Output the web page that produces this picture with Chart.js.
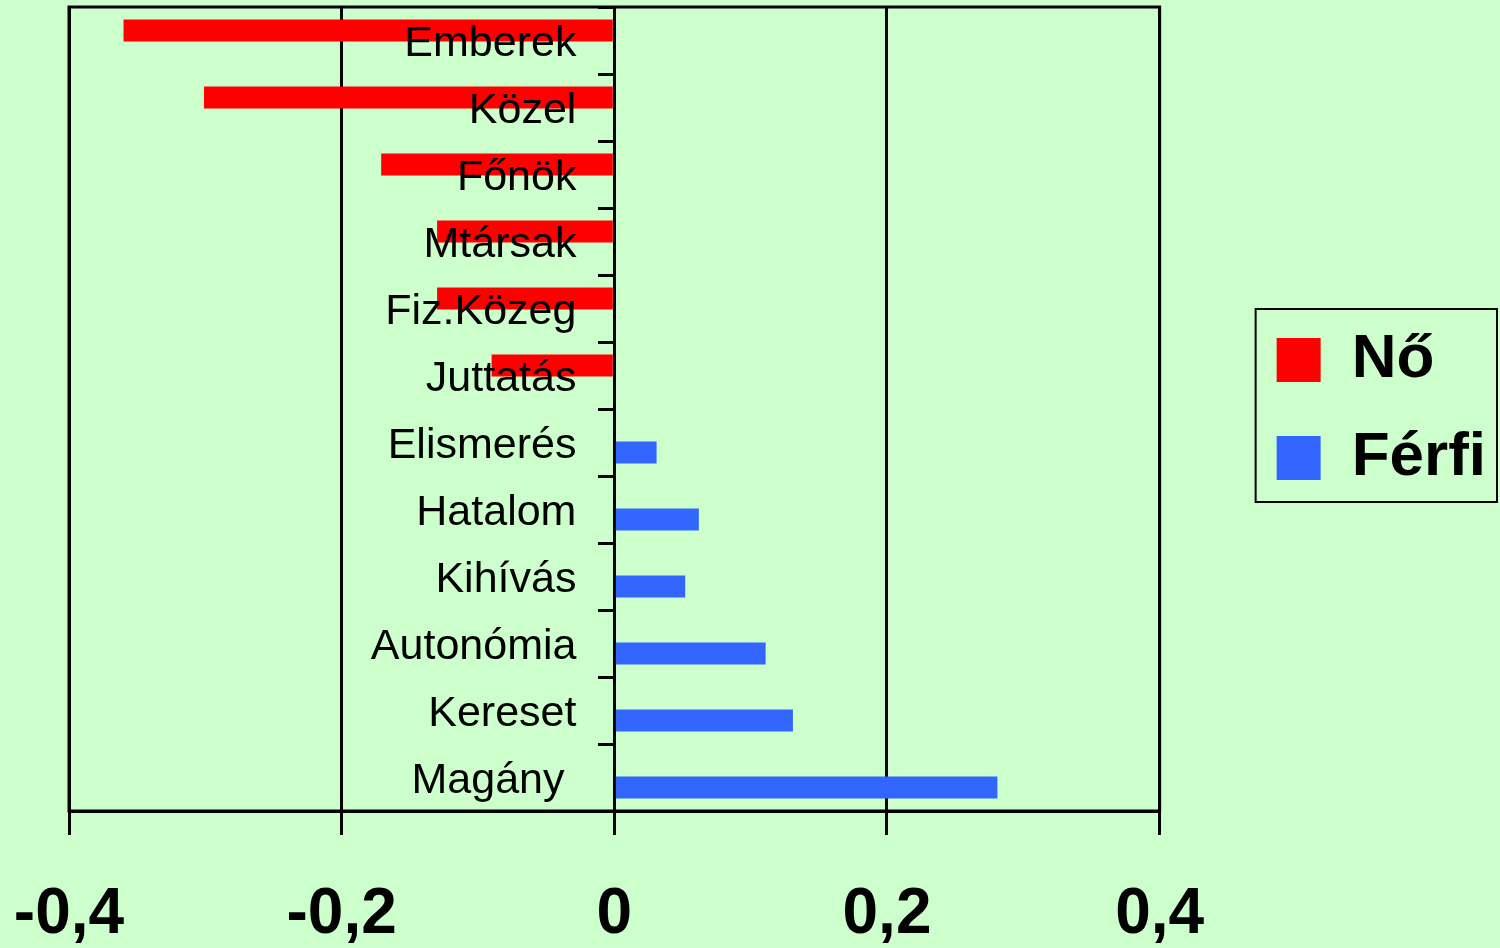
<!DOCTYPE html>
<html lang="hu">
<head>
  <meta charset="UTF-8">
  <title>Nő / Férfi</title>
  <style>
    html, body { margin: 0; padding: 0; background: #ccffcc; }
    .canvas_box { width: 1500px; height: 948px; }
  </style>
  <script src="https://cdn.jsdelivr.net/npm/chart.js@4.4.6/dist/chart.umd.min.js"></script>
</head>
<body>
<div class="canvas_box">
  <canvas id="myChart" width="1500" height="948"></canvas>
</div>
<script>
// data
var categories = ['Emberek', 'Közel', 'Főnök', 'Mtársak', 'Fiz.Közeg', 'Juttatás',
                  'Elismerés', 'Hatalom', 'Kihívás', 'Autonómia', 'Kereset', 'Magány '];
var noValues    = [-0.360, -0.301, -0.171, -0.130, -0.130, -0.090, null, null, null, null, null, null];
var ferfiValues = [null, null, null, null, null, null, 0.031, 0.062, 0.052, 0.111, 0.131, 0.281];
var xTicks = [-0.4, -0.2, 0, 0.2, 0.4];

var fontFamily = "'Liberation Sans', Arial, sans-serif";

// frame round the plot + border round the legend
var framePlugin = {
  id: 'frame',
  afterDraw: function(chart) {
    var ctx = chart.ctx, a = chart.chartArea;
    ctx.save();
    ctx.strokeStyle = '#000';
    ctx.lineWidth = 3;
    ctx.strokeRect(a.left, a.top, a.right - a.left, a.bottom - a.top);
    var hb = chart.legend && chart.legend.legendHitBoxes;
    if (hb && hb.length) {
      var l = Math.min.apply(null, hb.map(function(h) { return h.left; }));
      var r = Math.max.apply(null, hb.map(function(h) { return h.left + h.width; }));
      var t = hb[0].top, b = hb[hb.length - 1].top + hb[hb.length - 1].height;
      ctx.lineWidth = 2;
      ctx.strokeRect(l - 21, t - 20, (r + 11) - (l - 21), (b + 13) - (t - 20));
    }
    ctx.restore();
  }
};

// no overflow padding from the axes, the layout padding decides
function noPad(scale) {
  scale.paddingLeft = 0;
  scale.paddingRight = 0;
  scale.paddingTop = 0;
  scale.paddingBottom = 0;
}

var ctx = document.getElementById('myChart');
var myChart = new Chart(ctx, {
  type: 'bar',
  plugins: [framePlugin],
  data: {
    labels: categories,
    datasets: [
      {
        label: 'Nő',
        data: noValues,
        backgroundColor: '#ff0000',
        borderWidth: 0,
        categoryPercentage: 0.6,
        barPercentage: 1.1
      },
      {
        label: 'Férfi',
        data: ferfiValues,
        backgroundColor: '#3366ff',
        borderWidth: 0,
        categoryPercentage: 0.6,
        barPercentage: 1.1
      }
    ]
  },
  options: {
    indexAxis: 'y',
    responsive: false,
    animation: false,
    layout: {
      padding: { left: 69, right: 4, top: 7, bottom: 2 }
    },
    plugins: {
      tooltip: { enabled: false },
      legend: {
        display: true,
        position: 'right',
        fullSize: false,
        maxWidth: 300,
        labels: {
          boxWidth: 44,
          boxHeight: 44,
          padding: 36,
          color: '#000',
          font: { family: fontFamily, size: 62, weight: 'bold', lineHeight: 1 }
        }
      }
    },
    scales: {
      x: {
        type: 'linear',
        position: 'bottom',
        min: -0.4,
        max: 0.4,
        afterBuildTicks: function(scale) {
          scale.ticks = xTicks.map(function(v) { return { value: v }; });
        },
        afterFit: function(scale) { noPad(scale); scale.height = 135; },
        grid: {
          color: '#000',
          lineWidth: 3,
          tickLength: 24,
          tickColor: '#000'
        },
        border: { color: '#000', width: 3 },
        ticks: {
          padding: 48,
          color: '#000',
          font: { family: fontFamily, size: 64, weight: 'bold', lineHeight: 1 },
          callback: function(value) {
            return (Math.round(value * 10) / 10).toString().replace('.', ',');
          }
        }
      },
      // category axis at x = 0: axis line and tick marks
      y: {
        type: 'category',
        position: { x: 0 },
        offset: true,
        afterFit: noPad,
        grid: {
          display: true,
          offset: true,
          drawOnChartArea: false,
          drawTicks: true,
          tickLength: 15,
          color: '#000',
          lineWidth: 3
        },
        border: { color: '#000', width: 3 },
        ticks: { display: false }
      },
      // same categories, only the labels, a little left of the zero line
      yLabels: {
        type: 'category',
        axis: 'y',
        position: { x: -0.0278 },
        offset: true,
        afterFit: noPad,
        grid: { display: false },
        border: { display: false },
        ticks: {
          z: 1,
          labelOffset: 4,
          color: '#000',
          font: { family: fontFamily, size: 43, lineHeight: 1 }
        }
      },
      // empty spacer between plot and legend
      y2: {
        type: 'linear',
        axis: 'y',
        position: 'right',
        display: true,
        afterFit: function(scale) { noPad(scale); scale.width = 81; },
        grid: { display: false },
        border: { display: false },
        ticks: { display: false }
      }
    }
  }
});
</script>
</body>
</html>
